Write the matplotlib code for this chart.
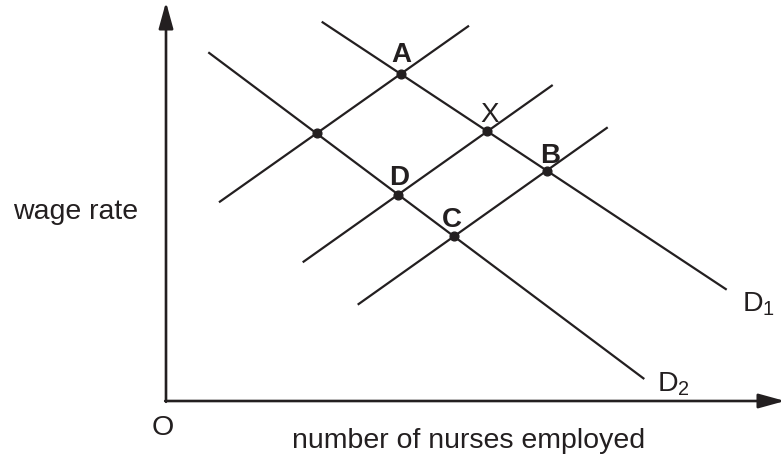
import numpy as np
import matplotlib
matplotlib.use("Agg")
import matplotlib.pyplot as plt

plt.rcParams["font.family"] = ["Liberation Sans", "DejaVu Sans"]
plt.rcParams["mathtext.fontset"] = "custom"
plt.rcParams["mathtext.rm"] = "Liberation Sans"
plt.rcParams["mathtext.it"] = "Liberation Sans"

INK = "#231f20"

# diagram units, origin at O (x: nurses employed, y: wage rate)
d1_line = [(155.7, 379.3), (560.7, 111.3)]
d2_line = [(42.3, 348.7), (478.3, 22.0)]
supply_lines = [
    [(53.0, 198.7), (303.0, 375.3)],
    [(136.7, 138.7), (386.7, 316.0)],
    [(191.7, 96.3), (441.7, 273.7)],
]
# which supply line crosses which demand line at each point
points = {
    "": (0, "D2"),
    "A": (0, "D1"),
    "X": (1, "D1"),
    "D": (1, "D2"),
    "C": (2, "D2"),
    "B": (2, "D1"),
}
x_max, y_max = 619, 399


def intersect(l1, l2):
    (x1, y1), (x2, y2) = l1
    (x3, y3), (x4, y4) = l2
    den = (x1 - x2) * (y3 - y4) - (y1 - y2) * (x3 - x4)
    t = ((x1 - x3) * (y3 - y4) - (y1 - y3) * (x3 - x4)) / den
    return x1 + t * (x2 - x1), y1 + t * (y2 - y1)


fig = plt.figure(figsize=(7.81, 4.6), dpi=100)
ax = fig.add_axes([0, 0, 1, 1])
ax.set_xlim(-166, 615)
ax.set_ylim(-58, 402)
ax.axis("off")

# axes with arrows
arrow = dict(arrowstyle="-|>,head_length=0.8,head_width=0.22", mutation_scale=20,
             lw=1.9, color=INK, shrinkA=0, shrinkB=0)
ax.annotate("", xy=(0, y_max), xytext=(0, -0.8), arrowprops=arrow,
            annotation_clip=False)
ax.annotate("", xy=(x_max, 0), xytext=(-0.8, 0), arrowprops=arrow,
            annotation_clip=False)

demand = {"D1": d1_line, "D2": d2_line}
for line in list(demand.values()) + supply_lines:
    xs, ys = zip(*line)
    ax.plot(xs, ys, color=INK, lw=1.6, solid_capstyle="butt")

# label offsets from each dot
offsets = {"A": (1, 13), "X": (2, 10), "B": (3, 9), "D": (1, 11), "C": (-2, 10)}
for name, (si, di) in points.items():
    px, py = intersect(supply_lines[si], demand[di])
    ax.plot(px, py, "o", color=INK, ms=6.3)
    if name:
        dx, dy = offsets[name]
        ax.text(px + dx, py + dy, name, fontsize=20, ha="center", va="baseline",
                color=INK, fontweight="normal" if name == "X" else "bold")

ax.text(d1_line[1][0] + 15, d1_line[1][1] - 21, r"D$_1$", fontsize=20.5,
        color=INK, ha="left", va="baseline")
ax.text(d2_line[1][0] + 13, d2_line[1][1] - 12, r"D$_2$", fontsize=20.5,
        color=INK, ha="left", va="baseline")

ax.text(-3, -33, "O", fontsize=20.5, color=INK, ha="center", va="baseline")
ax.text(303, -46, "number of nurses employed", fontsize=20.5, color=INK,
        ha="center", va="baseline")
ax.text(-90, 183, "wage rate", fontsize=20.5, color=INK, ha="center", va="baseline")

fig.savefig("out.png", dpi=100)
